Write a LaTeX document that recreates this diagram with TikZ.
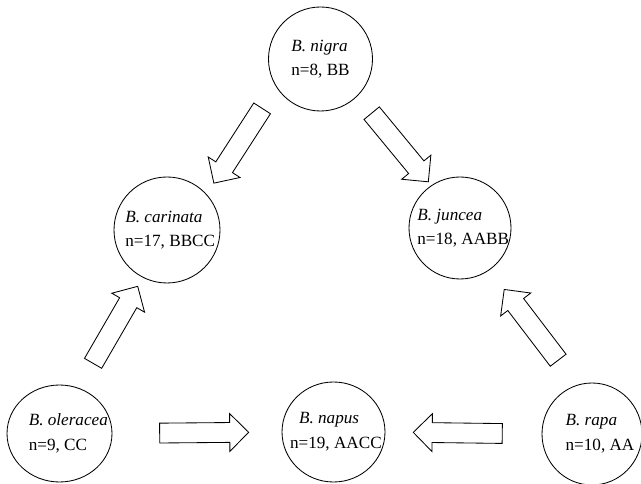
\documentclass[tikz,border=0pt]{standalone}
\usepackage{fontspec}
\setmainfont{Liberation Serif}
\usetikzlibrary{shapes.geometric,shapes.arrows}

\tikzset{
  species/.style={ellipse, draw, line width=0.6pt, inner sep=0pt},
  sptext/.style={align=left, inner sep=0pt, font=\fontsize{12.2pt}{17.5pt}\selectfont},
  blockarrow/.style={single arrow, draw, fill=white, line width=0.6pt,
    minimum height=2.225cm, inner sep=0.2375cm, single arrow head extend=0.225cm,
    sloped, allow upside down}
}

\begin{document}
\begin{tikzpicture}
  \useasboundingbox (0,0) rectangle (16.025,12.1);
  % Diploid and amphidiploid species
  \node[species, minimum width=2.6cm, minimum height=2.6cm] (nigra) at (8.0125,10.625) {};
  \node[species, minimum width=2.65cm, minimum height=2.65cm] (carinata) at (4.175,6.35) {};
  \node[species, minimum width=2.55cm, minimum height=2.55cm] (juncea) at (11.5,6.4) {};
  \node[species, minimum width=2.625cm, minimum height=2.425cm] (oleracea) at (1.4875,1.2625) {};
  \node[species, minimum width=2.575cm, minimum height=2.5cm] (napus) at (8.3375,1.3) {};
  \node[species, minimum width=2.5cm, minimum height=2.55cm] (rapa) at (14.8,1.25) {};

  \node[sptext] (nigra-t) at (nigra) {\textit{B. nigra}\\n=8, BB};
  \node[sptext, xshift=0.08cm] (carinata-t) at (carinata) {\textit{B. carinata}\\n=17, BBCC};
  \node[sptext, xshift=0.08cm] (juncea-t) at (juncea) {\textit{B. juncea}\\n=18, AABB};
  \node[sptext, xshift=0.22cm] (oleracea-t) at (oleracea) {\textit{B. oleracea}\\n=9, CC};
  \node[sptext, xshift=0.06cm] (napus-t) at (napus) {\hspace*{0.225cm}\textit{B. napus}\\n=19, AACC};
  \node[sptext, xshift=0.2cm] (rapa-t) at (rapa) {\textit{B. rapa}\\n=10, AA};

  % Crosses
  \path (nigra.212) -- node[blockarrow, pos=0.51] (nig-car) {} (carinata.42);
  \path (nigra.315) -- node[blockarrow, pos=0.533] (nig-jun) {} (juncea.124);
  \path (oleracea.67) -- node[blockarrow, pos=0.533] (ole-car) {} (carinata.243);
  \path (rapa.107) -- node[blockarrow, pos=0.489] (rap-jun) {} (juncea.305);
  \path (oleracea.east) -- node[blockarrow, pos=0.513] (ole-nap) {} (napus.west);
  \path (rapa.west) -- node[blockarrow, pos=0.505] (rap-nap) {} (napus.east);
\end{tikzpicture}
\end{document}
